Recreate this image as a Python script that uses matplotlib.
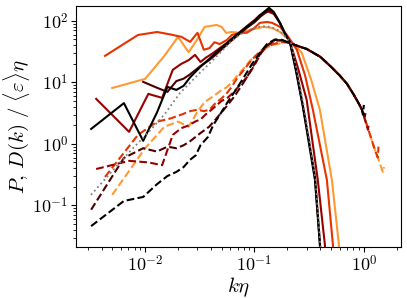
import numpy as np
import matplotlib
matplotlib.use("Agg")
import matplotlib.pyplot as plt
from matplotlib.ticker import FuncFormatter

plt.rcParams['mathtext.fontset'] = 'cm'
plt.rcParams['font.family'] = 'serif'

# kη grids (one per run) and spectra
k0 = [0.00321, 0.0064, 0.0096, 0.0128, 0.016, 0.0193, 0.0225, 0.0257, 0.029, 0.0321]
k0_hi = [0.0385, 0.045, 0.055, 0.065, 0.075, 0.085, 0.1, 0.115, 0.1356, 0.15, 0.171,
         0.19, 0.211, 0.24, 0.277, 0.31, 0.357, 0.396, 0.42]

# shared shape of the dissipation tail (all runs collapse there)
k_tail = [0.2, 0.26, 0.3, 0.4, 0.5, 0.6, 0.7, 0.8, 0.9, 0.96]
D_tail = [45, 38, 35, 26, 18, 13, 9.5, 6.5, 4.5, 3.6]

# black run
P_black = [1.75, 4.6, 1.12, 3.2, 8.45, 7.55, 8.8, 12, 15, 18,
           24, 31, 42, 55, 67, 80, 100, 128, 163, 140, 93,
           62, 45, 15, 4.0, 1.2, 0.26, 0.023, 0.004]
k_black_D = [0.00321, 0.0064, 0.0096, 0.0128, 0.016, 0.0193, 0.0225, 0.0257, 0.029, 0.0321,
             0.0376, 0.0418, 0.0484, 0.056, 0.069, 0.082, 0.095, 0.112, 0.13, 0.154,
             0.18] + k_tail + [0.98, 1.0]
D_black = [0.046, 0.118, 0.137, 0.22, 0.3, 0.35, 0.42, 0.55, 0.65, 0.95,
           1.3, 2.0, 3.0, 4.6, 8.0, 13, 20, 30, 42, 50,
           49] + D_tail + [3.0, 4.3]

# maroon run (first two P bins negative)
k_maroon_P = [0.0096, 0.0128, 0.016, 0.0193, 0.0225, 0.0257, 0.029, 0.0321] + k0_hi
P_maroon = [10.2, 8.2, 7.0, 10.5, 11.5, 13.5, 16, 18.5,
            23, 29, 40, 52, 64, 77, 95, 120, 150, 135, 92,
            62, 45, 16, 4.2, 1.3, 0.3, 0.025, 0.004]
k_maroon_D = [0.00321, 0.0064, 0.0096, 0.0128, 0.016, 0.0193, 0.0225, 0.0257, 0.029, 0.0321,
              0.0385, 0.045, 0.055, 0.065, 0.075, 0.085, 0.1, 0.115, 0.13, 0.154,
              0.18] + k_tail + [1.02, 1.04]
D_maroon = [0.085, 0.59, 0.85, 0.75, 0.9, 0.85, 0.95, 1.1, 1.3, 1.5,
            1.9, 2.6, 4.0, 5.8, 8.5, 12, 20, 31, 40, 49,
            48] + D_tail + [2.8, 3.3]

# dark red run
k_dred = [0.00357, 0.00714, 0.0107, 0.0143, 0.0179, 0.0214, 0.025, 0.0286, 0.0321, 0.0357,
          0.0418, 0.048, 0.056, 0.065, 0.0737, 0.085, 0.1, 0.112, 0.133, 0.15,
          0.171, 0.19, 0.211, 0.25, 0.3, 0.379, 0.44, 0.47]
P_dred = [5.4, 1.57, 6.5, 5.6, 16, 20, 23, 28, 21.5, 25,
          30, 36, 44, 55, 66, 82, 103, 125, 142, 130,
          92, 63, 46, 17, 5.2, 0.26, 0.023, 0.004]
k_dred_D = [0.00357, 0.00714, 0.0107, 0.0143, 0.0179, 0.0214, 0.025, 0.0286, 0.0321, 0.0357,
            0.042, 0.05, 0.056, 0.065, 0.075, 0.085, 0.1, 0.115, 0.13, 0.154,
            0.18] + k_tail + [1.09, 1.11]
D_dred = [0.39, 0.53, 0.5, 0.45, 1.4, 1.8, 2.0, 2.3, 2.5, 3.0,
          3.8, 5.0, 5.5, 7.0, 9.5, 12, 19, 30, 39, 48,
          48] + D_tail + [1.7, 2.2]

# red-orange run
k_rorg = [0.0043, 0.0086, 0.0129, 0.0172, 0.0215, 0.0258, 0.0301, 0.0344, 0.0387, 0.043,
          0.048, 0.056, 0.062, 0.0737, 0.085, 0.1, 0.112, 0.13, 0.145, 0.171,
          0.198, 0.244, 0.29, 0.342, 0.459, 0.521, 0.55]
P_rorg = [27, 59, 66, 60, 55, 45.6, 64, 34, 36, 45,
          42, 49, 59, 64, 64, 77, 93, 96, 93, 80,
          59, 34, 13, 3.57, 0.26, 0.023, 0.004]
k_rorg_D = [0.0043, 0.0086, 0.0129, 0.0172, 0.0215, 0.0258, 0.0301, 0.0344, 0.0387, 0.043,
            0.05, 0.056, 0.062, 0.07, 0.08, 0.09, 0.1, 0.115, 0.13, 0.15,
            0.17] + k_tail + [1.1, 1.26, 1.34, 1.36]
D_rorg = [0.29, 1.4, 2.3, 2.6, 3.0, 3.4, 3.6, 3.4, 3.6, 4.4,
          5.5, 6.7, 8.5, 12, 16, 21, 26, 33, 38, 42,
          45] + D_tail + [1.7, 0.8, 0.6, 0.9]

# orange run
k_org = [0.005, 0.01, 0.015, 0.02, 0.025, 0.03, 0.035, 0.04, 0.045, 0.05,
         0.055, 0.062, 0.0737, 0.085, 0.1, 0.12, 0.1445, 0.171, 0.198, 0.23,
         0.271, 0.33, 0.396, 0.51, 0.591, 0.62]
P_org = [8.1, 11.4, 27, 55, 31, 50, 80, 83, 86, 80,
         64, 66, 64, 69, 74, 80, 77, 66, 53, 42,
         30, 11, 3.57, 0.26, 0.023, 0.004]
k_org_D = [0.005, 0.01, 0.015, 0.02, 0.025, 0.03, 0.035, 0.04, 0.045, 0.05,
           0.055, 0.062, 0.07, 0.08, 0.09, 0.1, 0.115, 0.13, 0.15, 0.17,
           0.185] + k_tail + [1.1, 1.26, 1.34, 1.49, 1.53]
D_org = [0.148, 0.85, 1.9, 2.3, 1.9, 3.3, 4.8, 5.6, 6.5, 7.5,
         8.2, 10, 13, 17, 22, 26, 32, 37, 41, 43,
         44] + D_tail + [1.7, 0.8, 0.6, 0.35, 0.42]

# model curve (grey dotted)
k_model = [0.0032, 0.005, 0.0075, 0.0106, 0.015, 0.0209, 0.03, 0.0392, 0.05, 0.06,
           0.0737, 0.09, 0.11, 0.13, 0.15, 0.171, 0.19, 0.215, 0.245, 0.283,
           0.316, 0.362, 0.40, 0.43]
P_model = [0.148, 0.36, 0.8, 1.51, 3.0, 6.75, 13, 20.7, 32, 45,
           60, 72, 80, 82, 76, 68, 56, 45, 15, 4.0,
           1.2, 0.26, 0.023, 0.004]

cmap = plt.cm.gist_heat
runs = [
    (k_org, P_org, k_org_D, D_org, cmap(0.8)),
    (k_rorg, P_rorg, k_rorg_D, D_rorg, cmap(0.6)),
    (k_dred, P_dred, k_dred_D, D_dred, cmap(0.4)),
    (k_maroon_P, P_maroon, k_maroon_D, D_maroon, cmap(0.2)),
    (k0 + k0_hi, P_black, k_black_D, D_black, cmap(0.0)),
]

fig = plt.figure(figsize=(4.07, 2.98), dpi=100)
ax = fig.add_axes([0.187, 0.171, 0.798, 0.809])

for kP, P, kD, D, c in runs:
    ax.plot(kP, P, '-', color=c, lw=1.5)
    ax.plot(kD, D, '--', color=c, lw=1.5)
ax.plot(k_model, P_model, ':', color='grey', lw=1.3)

ax.set_xscale('log')
ax.set_yscale('log')
ax.set_xlim(0.00234, 2.18)
ax.set_ylim(0.021, 175)

pow10 = FuncFormatter(lambda v, pos: r'$10^{%d}$' % round(np.log10(v)))
ax.xaxis.set_major_formatter(pow10)
ax.yaxis.set_major_formatter(pow10)

ax.set_xlabel(r'$k\eta$', fontsize=15, labelpad=0)
ax.set_ylabel(r'$P,\,D(k)\ /\ \langle\varepsilon\rangle\eta$', fontsize=15, labelpad=0)
ax.tick_params(labelsize=13, pad=2)

fig.savefig('out.png', dpi=100)
